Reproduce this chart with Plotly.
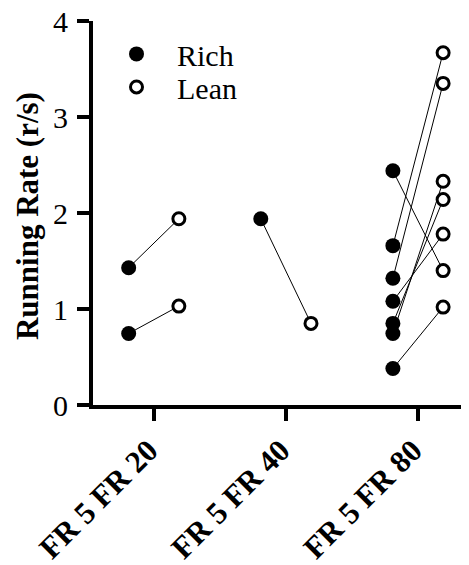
import plotly.graph_objects as go

categories = ["FR 5 FR 20", "FR 5 FR 40", "FR 5 FR 80"]
rich = [[1.43, 0.745], [1.94], [2.44, 1.66, 1.32, 1.08, 0.85, 0.745, 0.38]]
lean = [[1.94, 1.03], [0.85], [1.40, 3.67, 3.35, 1.78, 2.14, 2.33, 1.02]]
y_ticks = [0, 1, 2, 3, 4]

OFFSET = 0.19
FONT = "Liberation Serif, Times New Roman, serif"

rx, ry, lx, ly, linex, liney = [], [], [], [], [], []
for i, (rv, lv) in enumerate(zip(rich, lean)):
    for r, l in zip(rv, lv):
        rx.append(i - OFFSET); ry.append(r)
        lx.append(i + OFFSET); ly.append(l)
        linex += [i - OFFSET, i + OFFSET, None]
        liney += [r, l, None]

fig = go.Figure()
fig.add_trace(go.Scatter(x=linex, y=liney, mode="lines",
                         line=dict(color="black", width=1), showlegend=False,
                         hoverinfo="skip"))
fig.add_trace(go.Scatter(x=rx, y=ry, mode="markers", name="Rich", legend="legend",
                         marker=dict(symbol="circle", size=15, color="black",
                                     line=dict(width=0))))
fig.add_trace(go.Scatter(x=lx, y=ly, mode="markers", name="Lean", legend="legend2",
                         marker=dict(symbol="circle", size=12, color="white",
                                     line=dict(color="black", width=3))))

leg_common = dict(xanchor="left", yanchor="top", bgcolor="rgba(0,0,0,0)",
                  font=dict(family=FONT, size=30, color="black"), itemwidth=71)

# page body has an 8px default margin, so the figure is 8px smaller
fig.update_layout(
    width=461, height=557,
    margin=dict(l=85, r=0, t=13, b=160),
    plot_bgcolor="white", paper_bgcolor="white",
    font=dict(family=FONT, color="black", size=30),
    showlegend=True,
    legend=dict(x=0.008, y=0.982, **leg_common),
    legend2=dict(x=0.008, y=0.896, **leg_common),
    xaxis=dict(range=[-0.46, 2.386], tickmode="array",
               tickvals=list(range(len(categories))), ticktext=categories,
               tickangle=-45, showgrid=False, zeroline=False, automargin=False,
               showline=True, linecolor="black", linewidth=4,
               ticks="outside", ticklen=12, tickwidth=4, tickcolor="black",
               ticklabelstandoff=-1, ticklabelshift=-5,
               tickfont=dict(family=FONT, size=31, weight="bold")),
    yaxis=dict(range=[0, 4], tickmode="array", tickvals=y_ticks,
               showgrid=False, zeroline=False, automargin=False,
               showline=True, linecolor="black", linewidth=4,
               ticks="outside", ticklen=12, tickwidth=4, tickcolor="black",
               ticklabeloverflow="allow", ticklabelstandoff=3,
               tickfont=dict(family=FONT, size=30)),
    annotations=[dict(text="<b>Running Rate (r/s)</b>", textangle=-90,
                      xref="paper", yref="paper", x=-0.1755, y=0.492,
                      xanchor="center", yanchor="middle", showarrow=False,
                      font=dict(family=FONT, size=31, color="black"))],
)

fig.write_html("out.html")
